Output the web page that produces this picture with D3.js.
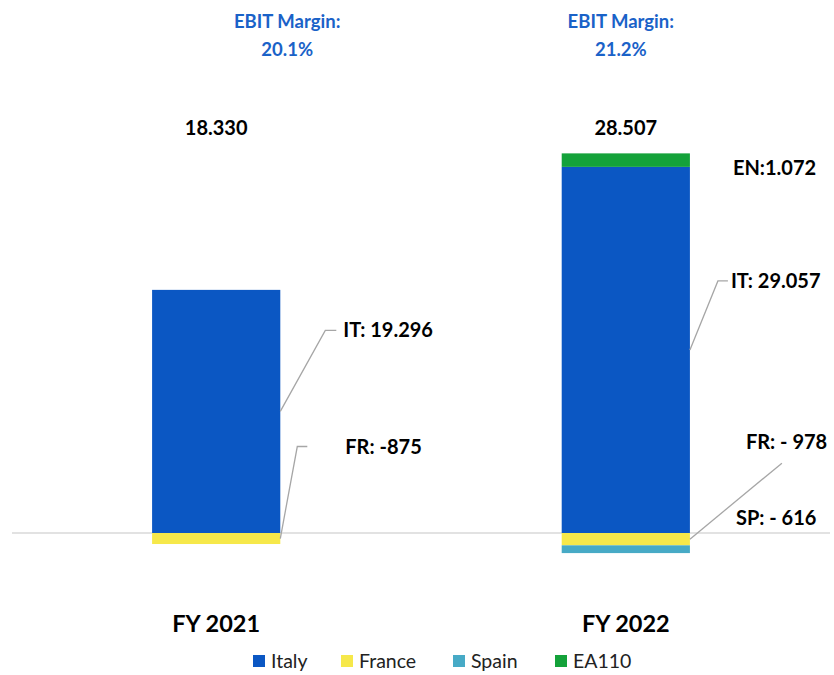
<!DOCTYPE html>
<html>
<head>
    <title>EBIT by country</title>
    <script src="https://d3js.org/d3.v7.min.js"></script>
    <style>
        body { margin: 0; background: #fff; }
        svg { font-family: Lato, "Open Sans", sans-serif; }
    </style>
</head>
<body>
    <svg id="chart" width="834" height="675"></svg>

    <script>
        // values (thousands, "." as separator)
        var years = ["FY 2021", "FY 2022"]
        var italy = [19296, 29057]
        var france = [-875, -978]
        var spain = [0, -616]
        var ea110 = [0, 1072]
        var totals = [18330, 28507]
        var margins = ["20.1%", "21.2%"]
        var seriesNames = ["Italy", "France", "Spain", "EA110"]
        var seriesColors = ["#0b57c3", "#f6e84a", "#47aac6", "#14a23a"]

        // country labels: series, year index, text
        var labels = [
            { s: "Italy", i: 0, text: "IT: 19.296" },
            { s: "France", i: 0, text: "FR: -875" },
            { s: "EA110", i: 1, text: "EN:1.072" },
            { s: "Italy", i: 1, text: "IT: 29.057" },
            { s: "France", i: 1, text: "FR: - 978" },
            { s: "Spain", i: 1, text: "SP: - 616" }
        ]

        var fmt = d3.formatLocale({ decimal: ",", thousands: ".", grouping: [3], currency: ["", "€"] }).format(",.0f")

        var rows = years.map((y, i) => ({
            year: y, Italy: italy[i], France: france[i], Spain: spain[i], EA110: ea110[i]
        }))

        var svg = d3.select("#chart")

        var x = d3.scaleBand().domain(years).range([12, 830])
            .paddingInner(0.687).paddingOuter(0.342)
        var y = d3.scaleLinear().domain([0, 30000]).range([533, 155])
        var color = d3.scaleOrdinal(seriesNames, seriesColors)

        var stack = d3.stack().keys(seriesNames).offset(d3.stackOffsetDiverging)
        var layers = stack(rows)

        // zero line
        svg.append("line")
            .attr("x1", 12).attr("x2", 830)
            .attr("y1", y(0)).attr("y2", y(0))
            .attr("stroke", "#d9d9d9").attr("stroke-width", 1.5)

        svg.append("g").selectAll("g")
            .data(layers).enter()
            .append("g")
            .attr("fill", d => color(d.key))
            .selectAll("rect")
            .data(d => d.filter(e => e[1] - e[0] != 0)).enter()
            .append("rect")
            .attr("x", d => x(d.data.year))
            .attr("y", d => y(Math.max(d[0], d[1])))
            .attr("height", d => Math.abs(y(d[0]) - y(d[1])))
            .attr("width", x.bandwidth())

        // leader lines + labels, offsets from the right edge / middle of the segment
        var offs = {
            "0Italy": { tx: 63, ty: -81, path: [[45, -81], [56, -81]] },
            "0France": { tx: 65, ty: -92, path: [[17, -92], [27, -92]] },
            "1EA110": { tx: 43, ty: 8, path: null },
            "1Italy": { tx: 41, ty: -69, path: [[28, -69], [38, -69]] },
            "1France": { tx: 56, ty: -97, path: [[92, -76]] },
            "1Spain": { tx: 46, ty: -31, path: null }
        }

        labels.forEach(l => {
            var seg = layers.find(k => k.key == l.s)[l.i]
            var xr = x(years[l.i]) + x.bandwidth()
            var ym = (y(seg[0]) + y(seg[1])) / 2
            var o = offs[l.i + l.s]
            if (o.path) {
                var pts = [[xr, ym]].concat(o.path.map(p => [xr + p[0], ym + p[1]]))
                svg.append("path")
                    .attr("d", d3.line()(pts))
                    .attr("fill", "none")
                    .attr("stroke", "#a6a6a6")
                    .attr("stroke-width", 1.3)
            }
            svg.append("text")
                .attr("x", xr + o.tx).attr("y", ym + o.ty)
                .attr("dy", "0.35em")
                .style("font-size", "20px").style("font-weight", "bold")
                .attr("fill", "#000")
                .text(l.text)
        })

        // totals
        svg.append("g").selectAll("text")
            .data(totals).enter()
            .append("text")
            .attr("x", (d, i) => x(years[i]) + x.bandwidth() / 2)
            .attr("y", 128).attr("dy", "0.35em")
            .attr("text-anchor", "middle")
            .style("font-size", "20px").style("font-weight", "bold")
            .text(d => fmt(d))

        // EBIT margin headers
        margins.forEach((m, i) => {
            var t = svg.append("text")
                .attr("x", x(years[i]) + x.bandwidth() / 2 + (i == 0 ? 71 : -5))
                .attr("text-anchor", "middle")
                .attr("fill", "#1a62c8")
                .style("font-size", "18.5px").style("font-weight", "bold")
            t.append("tspan").attr("x", t.attr("x")).attr("y", 28).text("EBIT Margin:")
            t.append("tspan").attr("x", t.attr("x")).attr("y", 56).text(m)
        })

        // category labels
        svg.append("g").selectAll("text")
            .data(years).enter()
            .append("text")
            .attr("x", d => x(d) + x.bandwidth() / 2)
            .attr("y", 624).attr("dy", "0.35em")
            .attr("text-anchor", "middle")
            .style("font-size", "23.5px").style("font-weight", "bold")
            .text(d => d)

        // legend
        var legX = [253, 341, 453, 555]
        var leg = svg.append("g").selectAll("g")
            .data(seriesNames).enter()
            .append("g")
            .attr("transform", (d, i) => "translate(" + legX[i] + ",661)")
        leg.append("rect")
            .attr("x", 0).attr("y", -6)
            .attr("width", 12).attr("height", 12)
            .attr("fill", d => color(d))
        leg.append("text")
            .attr("x", 18).attr("dy", "0.35em")
            .style("font-size", "19.5px")
            .attr("fill", "#222")
            .text(d => d)
    </script>
</body>
</html>
